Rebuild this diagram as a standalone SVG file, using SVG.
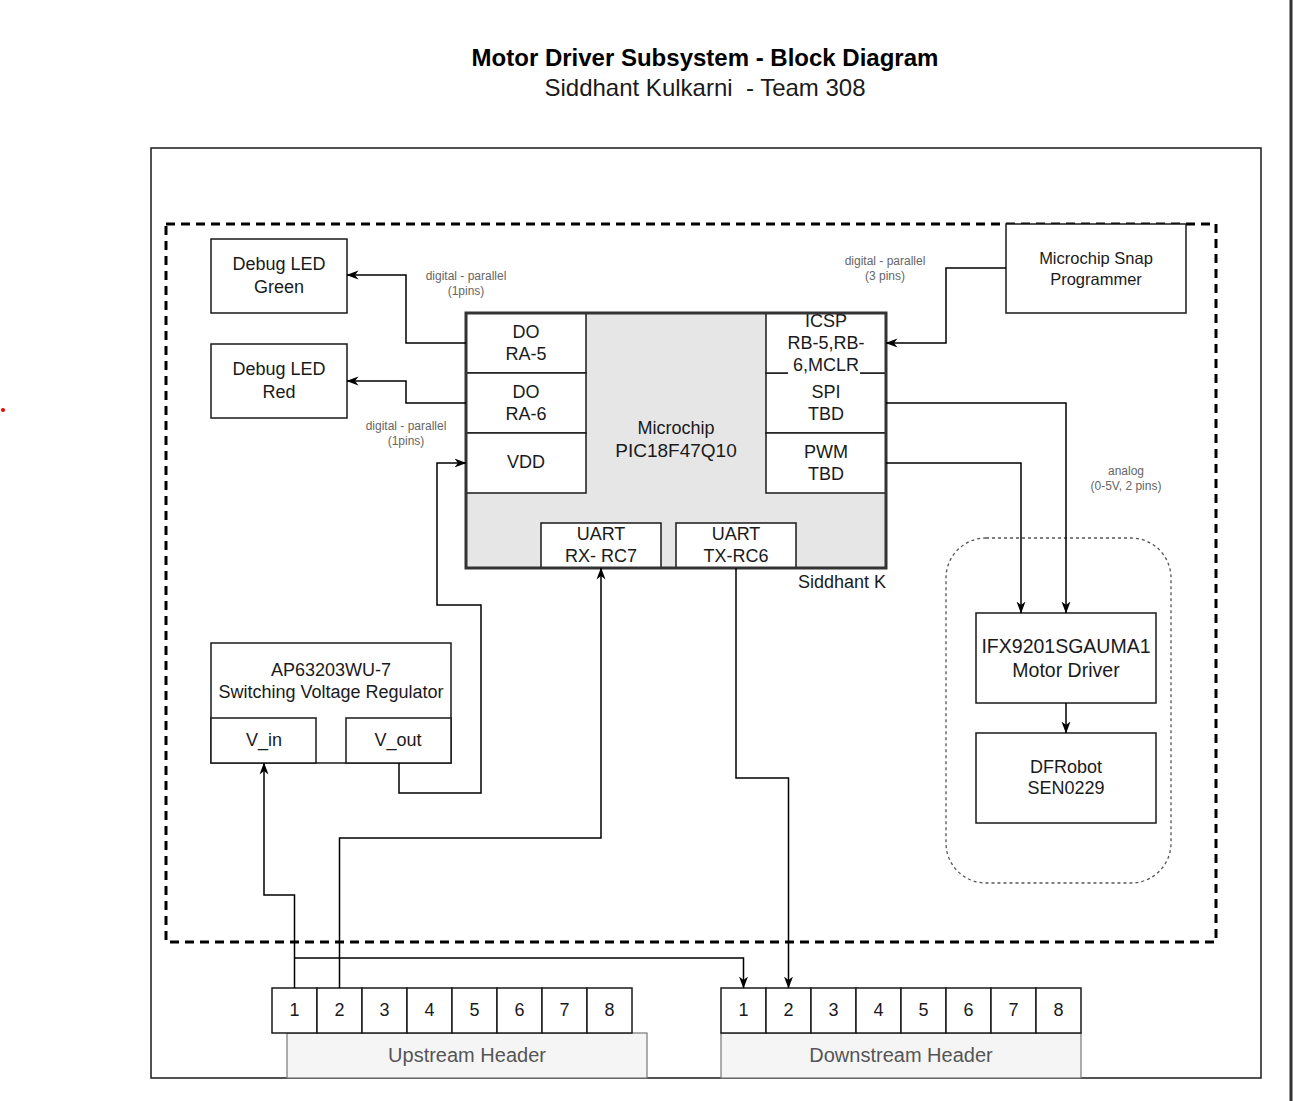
<svg xmlns="http://www.w3.org/2000/svg" width="1294" height="1101" viewBox="0 0 1294 1101">
<defs>
<marker id="arr" viewBox="0 0 12 10" refX="11.5" refY="5" markerWidth="12" markerHeight="10" markerUnits="userSpaceOnUse" orient="auto">
<path d="M0,0.5 L12,5 L0,9.5 L3.5,5 z" fill="#000"/>
</marker>
<style>
text{font-family:"Liberation Sans",Arial,sans-serif;fill:#1a1a1a;text-anchor:middle}
.box{fill:#fff;stroke:#1a1a1a;stroke-width:1.5}
.t18{font-size:18px}
.small{font-size:12px;fill:#666}
.conn{fill:none;stroke:#000;stroke-width:1.5}
.arrow{marker-end:url(#arr)}
.hdr{fill:#f5f5f5;stroke:#777;stroke-width:1.2}
.hlabel{font-size:20px;fill:#555}
</style>
</defs>
<rect x="0" y="0" width="1294" height="1101" fill="#fff"/>
<line x1="1291" y1="0" x2="1291" y2="1101" stroke="#333" stroke-width="3"/>
<circle cx="3" cy="410" r="2" fill="#e00"/>

<g id="title">
<text x="705" y="66" style="font-size:24px;font-weight:bold;fill:#000">Motor Driver Subsystem - Block Diagram</text>
<text x="705" y="96" style="font-size:24px;fill:#1a1a1a">Siddhant Kulkarni&#160; - Team 308</text>
</g>

<g id="outer-frame">
<rect x="151" y="148" width="1110" height="930" fill="none" stroke="#1a1a1a" stroke-width="1.5"/>
</g>
<g id="subsystem-boundary">
<rect x="166" y="224" width="1050" height="718" fill="none" stroke="#000" stroke-width="3" stroke-dasharray="9 6"/>
</g>
<g id="motor-group">
<rect x="946" y="538" width="225" height="345" rx="40" ry="40" fill="none" stroke="#555" stroke-width="1.3" stroke-dasharray="3 3"/>
</g>

<g id="led-green">
<rect class="box" x="211" y="239" width="136" height="74"/>
<text class="t18" x="279" y="270">Debug LED</text>
<text class="t18" x="279" y="293">Green</text>
</g>
<g id="led-red">
<rect class="box" x="211" y="344" width="136" height="74"/>
<text class="t18" x="279" y="375">Debug LED</text>
<text class="t18" x="279" y="398">Red</text>
</g>

<g id="mcu">
<rect x="466" y="313" width="420" height="255" fill="#e6e6e6" stroke="none"/>
<text class="t18" x="676" y="434">Microchip</text>
<text x="676" y="457" style="font-size:19px">PIC18F47Q10</text>
<text class="t18" x="886" y="588" style="text-anchor:end">Siddhant K</text>
</g>
<g id="mcu-ra5">
<rect class="box" x="466" y="313" width="120" height="60"/>
<text class="t18" x="526" y="338">DO</text>
<text class="t18" x="526" y="360">RA-5</text>
</g>
<g id="mcu-ra6">
<rect class="box" x="466" y="373" width="120" height="60"/>
<text class="t18" x="526" y="398">DO</text>
<text class="t18" x="526" y="420">RA-6</text>
</g>
<g id="mcu-vdd">
<rect class="box" x="466" y="433" width="120" height="60"/>
<text class="t18" x="526" y="468">VDD</text>
</g>
<g id="mcu-spi">
<rect class="box" x="766" y="373" width="120" height="60"/>
<text class="t18" x="826" y="398">SPI</text>
<text class="t18" x="826" y="420">TBD</text>
</g>
<g id="mcu-pwm">
<rect class="box" x="766" y="433" width="120" height="60"/>
<text class="t18" x="826" y="458">PWM</text>
<text class="t18" x="826" y="480">TBD</text>
</g>
<g id="mcu-icsp">
<rect class="box" x="766" y="313" width="120" height="60"/>
<rect x="788" y="356" width="72" height="18" fill="#fff"/>
<text class="t18" x="826" y="327">ICSP</text>
<text class="t18" x="826" y="349">RB-5,RB-</text>
<text class="t18" x="826" y="371">6,MCLR</text>
</g>
<g id="mcu-uart-rx">
<rect class="box" x="541" y="523" width="120" height="45"/>
<text class="t18" x="601" y="540">UART</text>
<text class="t18" x="601" y="562">RX- RC7</text>
</g>
<g id="mcu-uart-tx">
<rect class="box" x="676" y="523" width="120" height="45"/>
<text class="t18" x="736" y="540">UART</text>
<text class="t18" x="736" y="562">TX-RC6</text>
</g>
<g id="mcu-border">
<rect x="466" y="313" width="420" height="255" fill="none" stroke="#333" stroke-width="3"/>
</g>

<g id="snap-programmer">
<rect class="box" x="1006" y="224" width="180" height="89"/>
<text x="1096" y="264" style="font-size:16.5px">Microchip Snap</text>
<text x="1096" y="285" style="font-size:16.5px">Programmer</text>
</g>

<g id="motor-driver">
<rect class="box" x="976" y="613" width="180" height="90"/>
<text x="1066" y="653" style="font-size:19.5px">IFX9201SGAUMA1</text>
<text x="1066" y="677" style="font-size:19.5px">Motor Driver</text>
</g>
<g id="dfrobot">
<rect class="box" x="976" y="733" width="180" height="90"/>
<text class="t18" x="1066" y="773">DFRobot</text>
<text class="t18" x="1066" y="794">SEN0229</text>
</g>

<g id="regulator">
<rect class="box" x="211" y="643" width="240" height="120"/>
<text class="t18" x="331" y="676">AP63203WU-7</text>
<text class="t18" x="331" y="698">Switching Voltage Regulator</text>
<rect class="box" x="211" y="718" width="105" height="45"/>
<text class="t18" x="264" y="746">V_in</text>
<rect class="box" x="346" y="718" width="105" height="45"/>
<text class="t18" x="398" y="746">V_out</text>
</g>

<g id="upstream-header">
<rect class="hdr" x="287" y="1033" width="360" height="45"/>
<text class="hlabel" x="467" y="1062">Upstream Header</text>
<rect class="box" x="272" y="988" width="45" height="45"/>
<rect class="box" x="317" y="988" width="45" height="45"/>
<rect class="box" x="362" y="988" width="45" height="45"/>
<rect class="box" x="407" y="988" width="45" height="45"/>
<rect class="box" x="452" y="988" width="45" height="45"/>
<rect class="box" x="497" y="988" width="45" height="45"/>
<rect class="box" x="542" y="988" width="45" height="45"/>
<rect class="box" x="587" y="988" width="45" height="45"/>
<text class="t18" x="294.5" y="1016">1</text>
<text class="t18" x="339.5" y="1016">2</text>
<text class="t18" x="384.5" y="1016">3</text>
<text class="t18" x="429.5" y="1016">4</text>
<text class="t18" x="474.5" y="1016">5</text>
<text class="t18" x="519.5" y="1016">6</text>
<text class="t18" x="564.5" y="1016">7</text>
<text class="t18" x="609.5" y="1016">8</text>
</g>
<g id="downstream-header">
<rect class="hdr" x="721" y="1033" width="360" height="45"/>
<text class="hlabel" x="901" y="1062">Downstream Header</text>
<rect class="box" x="721" y="988" width="45" height="45"/>
<rect class="box" x="766" y="988" width="45" height="45"/>
<rect class="box" x="811" y="988" width="45" height="45"/>
<rect class="box" x="856" y="988" width="45" height="45"/>
<rect class="box" x="901" y="988" width="45" height="45"/>
<rect class="box" x="946" y="988" width="45" height="45"/>
<rect class="box" x="991" y="988" width="45" height="45"/>
<rect class="box" x="1036" y="988" width="45" height="45"/>
<text class="t18" x="743.5" y="1016">1</text>
<text class="t18" x="788.5" y="1016">2</text>
<text class="t18" x="833.5" y="1016">3</text>
<text class="t18" x="878.5" y="1016">4</text>
<text class="t18" x="923.5" y="1016">5</text>
<text class="t18" x="968.5" y="1016">6</text>
<text class="t18" x="1013.5" y="1016">7</text>
<text class="t18" x="1058.5" y="1016">8</text>
</g>

<g id="connectors">
<path class="conn arrow" d="M466,343 H406 V275 H347"/>
<path class="conn arrow" d="M466,403 H406 V381 H347"/>
<path class="conn arrow" d="M1006,268 H946 V343 H886"/>
<path class="conn arrow" d="M886,403 H1066 V613"/>
<path class="conn arrow" d="M886,463 H1021 V613"/>
<path class="conn arrow" d="M1066,703 V733"/>
<path class="conn arrow" d="M399,763 V793 H481 V605 H437 V463 H466"/>
<path class="conn arrow" d="M294.5,988 V895 H264 V763"/>
<path class="conn arrow" d="M294.5,958 H743.5 V988"/>
<path class="conn arrow" d="M339.5,988 V838 H601 V568"/>
<path class="conn arrow" d="M736,568 V778 H788.5 V988"/>
<text class="small" x="466" y="280">digital - parallel</text>
<text class="small" x="466" y="295">(1pins)</text>
<text class="small" x="406" y="430">digital - parallel</text>
<text class="small" x="406" y="445">(1pins)</text>
<text class="small" x="885" y="265">digital - parallel</text>
<text class="small" x="885" y="280">(3 pins)</text>
<text class="small" x="1126" y="475">analog</text>
<text class="small" x="1126" y="490">(0-5V, 2 pins)</text>
</g>
</svg>
